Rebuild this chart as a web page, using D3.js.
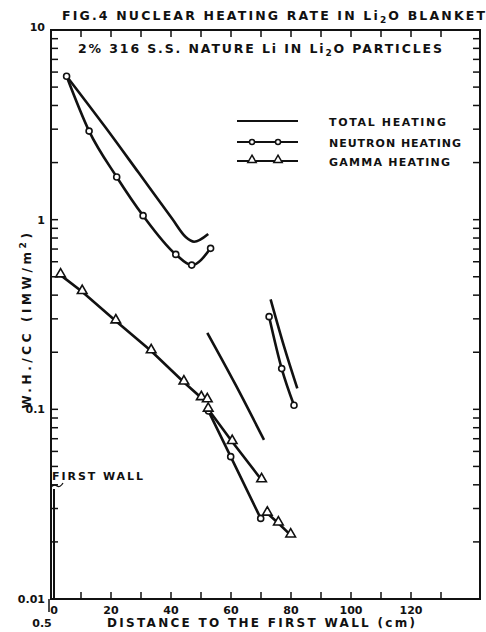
<!DOCTYPE html>
<html>
<head>
<meta charset="utf-8">
<script src="https://cdn.jsdelivr.net/npm/d3@7"></script>
<style>
  body { margin: 0; background: #fff; }
  text { font-family: "DejaVu Sans", sans-serif; font-weight: bold; fill: #111; }
</style>
</head>
<body>
<div id="chart"></div>
<script>
var width = 486, height = 632,
    plot = { left: 51, right: 480, top: 30, bottom: 599 };

// values: [distance to first wall (cm), W.H./CC]
var totalA = [[4.5, 5.9], [18.2, 3.06], [29.3, 1.76], [40.4, 1.01], [44.9, 0.81], [47.7, 0.765], [52.4, 0.84]];
var totalB = [[52.1, 0.253], [61.6, 0.134], [71, 0.069]];
var totalC = [[73.2, 0.38], [77.7, 0.214], [82.1, 0.129]];
var neutronA = [[5.2, 5.7], [12.7, 2.93], [21.9, 1.68], [30.7, 1.05], [41.6, 0.656], [46.9, 0.576], [53.2, 0.706]];
var neutronB = [[52.5, 0.098], [59.9, 0.0563], [69.9, 0.0266]];
var neutronC = [[72.7, 0.308], [76.9, 0.164], [81, 0.105]];
var gammaA = [[3.2, 0.51], [10.4, 0.417], [21.6, 0.292], [33.4, 0.203], [44.3, 0.139], [50.1, 0.115], [52.1, 0.112]];
var gammaB = [[52.4, 0.1], [60.4, 0.0675], [70.2, 0.0424]];
var gammaC = [[72.1, 0.0283], [75.8, 0.0251], [79.9, 0.0217]];

var xTicks = [0, 10, 20, 30, 40, 50, 60, 70, 80, 90, 100, 110, 120, 130],
    xTickLabels = [0, 20, 40, 60, 80, 100, 120],
    yTickLabels = [10, 1, 0.1, 0.01],
    firstWall = 1;

var legendItems = ["TOTAL HEATING", "NEUTRON HEATING", "GAMMA HEATING"];

var x = d3.scaleLinear().domain([0, (plot.right - plot.left) / 3]).range([plot.left, plot.right]);
var y = d3.scaleLog().domain([0.01, 10]).range([plot.bottom, plot.top]);

var svg = d3.select("#chart").append("svg")
    .attr("width", width)
    .attr("height", height);

// frame
svg.append("rect")
  .attr("x", plot.left).attr("y", plot.top)
  .attr("width", plot.right - plot.left).attr("height", plot.bottom - plot.top)
  .attr("fill", "none").attr("stroke", "#111").attr("stroke-width", 2);
svg.append("line") // left axis runs a bit under the baseline, as in the scan
  .attr("x1", plot.left - 2).attr("x2", plot.left - 2)
  .attr("y1", plot.bottom).attr("y2", plot.bottom + 13)
  .attr("stroke", "#111").attr("stroke-width", 1.5);

// y ticks, minor ones every 1..9 of each decade
var yTicks = [];
[0.01, 0.1, 1].forEach(function(d) {
  for (var k = 1; k < 10; k++) yTicks.push(d * k);
});
yTicks.push(10);

var tickLen = 7;
svg.append("g").selectAll("line.yl")
  .data(yTicks).enter().append("line")
    .attr("x1", plot.left).attr("x2", plot.left + tickLen)
    .attr("y1", function(d) { return y(d); }).attr("y2", function(d) { return y(d); })
    .attr("stroke", "#111").attr("stroke-width", 1.5);
svg.append("g").selectAll("line.yr")
  .data(yTicks).enter().append("line")
    .attr("x1", plot.right).attr("x2", plot.right - tickLen)
    .attr("y1", function(d) { return y(d); }).attr("y2", function(d) { return y(d); })
    .attr("stroke", "#111").attr("stroke-width", 1.5);

svg.append("g").selectAll("line.xb")
  .data(xTicks).enter().append("line")
    .attr("x1", function(d) { return x(d); }).attr("x2", function(d) { return x(d); })
    .attr("y1", plot.bottom).attr("y2", plot.bottom - tickLen)
    .attr("stroke", "#111").attr("stroke-width", 1.5);
svg.append("g").selectAll("line.xt")
  .data(xTicks).enter().append("line")
    .attr("x1", function(d) { return x(d); }).attr("x2", function(d) { return x(d); })
    .attr("y1", plot.top).attr("y2", plot.top + tickLen)
    .attr("stroke", "#111").attr("stroke-width", 1.5);

svg.append("g").selectAll("text.yt")
  .data(yTickLabels).enter().append("text")
    .attr("x", plot.left - 6)
    .attr("y", function(d) { return y(d); })
    .attr("dy", function(d) { return d === 10 ? "0.05em" : "0.35em"; })
    .attr("text-anchor", "end")
    .attr("font-size", 11)
    .text(function(d) { return d; });

svg.append("g").selectAll("text.xt")
  .data(xTickLabels).enter().append("text")
    .attr("x", function(d) { return x(d) + (d === 0 ? 3 : 0); })
    .attr("y", plot.bottom + 15)
    .attr("text-anchor", "middle")
    .attr("font-size", 11)
    .text(function(d) { return d; });

svg.append("text")
  .attr("x", 42).attr("y", 627)
  .attr("text-anchor", "middle").attr("font-size", 11)
  .text("0.5");

svg.append("text")
  .attr("x", 107).attr("y", 627)
  .attr("font-size", 12).attr("textLength", 308).attr("lengthAdjust", "spacing")
  .text("DISTANCE TO THE FIRST WALL (cm)");

// y label
var yl = svg.append("text")
  .attr("transform", "translate(31,319) rotate(-90)")
  .attr("text-anchor", "middle")
  .attr("font-size", 12).attr("letter-spacing", 3.6);
yl.append("tspan").text("W.H./CC (IMW/m");
yl.append("tspan").attr("dy", -5).attr("font-size", 9).text("2");
yl.append("tspan").attr("dy", 5).text(")");

// titles
var t1 = svg.append("text")
  .attr("x", 62).attr("y", 20)
  .attr("font-size", 12.5).attr("textLength", 423).attr("lengthAdjust", "spacing");
t1.append("tspan").text("FIG.4 NUCLEAR HEATING RATE IN Li");
t1.append("tspan").attr("dy", 3).attr("font-size", 9).text("2");
t1.append("tspan").attr("dy", -3).text("O BLANKET");

var t2 = svg.append("text")
  .attr("x", 78).attr("y", 53)
  .attr("font-size", 12.5).attr("textLength", 364).attr("lengthAdjust", "spacing");
t2.append("tspan").text("2% 316 S.S. NATURE Li IN Li");
t2.append("tspan").attr("dy", 3).attr("font-size", 9).text("2");
t2.append("tspan").attr("dy", -3).text("O PARTICLES");

// curves
var line = d3.line()
  .x(function(d) { return x(d[0]); })
  .y(function(d) { return y(d[1]); })
  .curve(d3.curveMonotoneX);
var straight = d3.line()
  .x(function(d) { return x(d[0]); })
  .y(function(d) { return y(d[1]); });

var curves = svg.append("g");
[totalA, totalB, totalC, neutronA, neutronB, neutronC].forEach(function(s) {
  curves.append("path").attr("d", line(s))
    .attr("fill", "none").attr("stroke", "#111").attr("stroke-width", 2.6);
});
[gammaA, gammaB, gammaC].forEach(function(s) {
  curves.append("path").attr("d", straight(s))
    .attr("fill", "none").attr("stroke", "#111").attr("stroke-width", 2.6);
});

var tri = d3.symbol().type(d3.symbolTriangle).size(40);

function circles(s) {
  svg.append("g").selectAll("circle")
    .data(s).enter().append("circle")
      .attr("cx", function(d) { return x(d[0]); })
      .attr("cy", function(d) { return y(d[1]); })
      .attr("r", 3)
      .attr("fill", "#fff").attr("stroke", "#111").attr("stroke-width", 1.6);
}
function triangles(s) {
  svg.append("g").selectAll("path")
    .data(s).enter().append("path")
      .attr("d", tri)
      .attr("transform", function(d) { return "translate(" + x(d[0]) + "," + (y(d[1]) - 1) + ")"; })
      .attr("fill", "#fff").attr("stroke", "#111").attr("stroke-width", 1.6);
}
[neutronA, neutronB, neutronC].forEach(circles);
[gammaA, gammaB, gammaC].forEach(triangles);

// first wall mark
svg.append("line")
  .attr("x1", x(firstWall)).attr("x2", x(firstWall))
  .attr("y1", 489).attr("y2", plot.bottom)
  .attr("stroke", "#111").attr("stroke-width", 2);
svg.append("path")
  .attr("d", "M51,487 q3,-3 6,-1 t6,-3")
  .attr("fill", "none").attr("stroke", "#111").attr("stroke-width", 1.3);
svg.append("text")
  .attr("x", 52).attr("y", 480)
  .attr("font-size", 11).attr("textLength", 91).attr("lengthAdjust", "spacing")
  .text("FIRST WALL");

// legend
var lg = svg.append("g").selectAll("g")
  .data(legendItems).enter().append("g")
    .attr("transform", function(d, i) { return "translate(0," + [121, 142, 161][i] + ")"; });
lg.append("line")
  .attr("x1", 237).attr("x2", 298)
  .attr("stroke", "#111").attr("stroke-width", 2);
lg.append("text")
  .attr("x", 329).attr("y", 5)
  .attr("font-size", 11)
  .attr("textLength", function(d, i) { return [117, 132, 121][i]; })
  .attr("lengthAdjust", "spacing")
  .text(function(d) { return d; });
lg.filter(function(d, i) { return i === 1; }).selectAll("circle")
  .data([252, 278]).enter().append("circle")
    .attr("cx", function(d) { return d; }).attr("cy", 0).attr("r", 2.5)
    .attr("fill", "#fff").attr("stroke", "#111").attr("stroke-width", 1.5);
lg.filter(function(d, i) { return i === 2; }).selectAll("path")
  .data([252, 278]).enter().append("path")
    .attr("d", d3.symbol().type(d3.symbolTriangle).size(30))
    .attr("transform", function(d) { return "translate(" + d + ",-1)"; })
    .attr("fill", "#fff").attr("stroke", "#111").attr("stroke-width", 1.5);
</script>
</body>
</html>
